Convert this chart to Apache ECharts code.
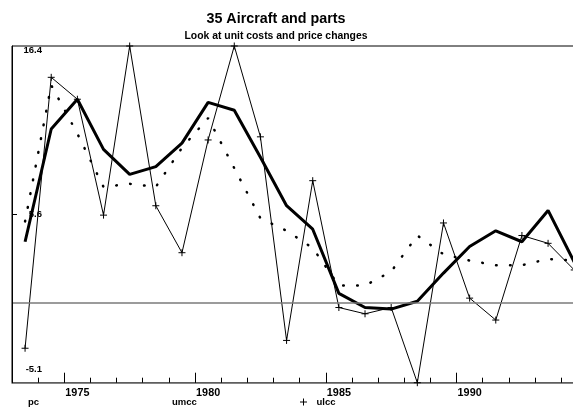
<!DOCTYPE html>
<html>
<head>
<meta charset="utf-8">
<script src="https://cdn.jsdelivr.net/npm/echarts@6/dist/echarts.min.js"></script>
<style>
  html, body { margin: 0; padding: 0; background: #fff; }
  #chart { width: 573px; height: 409px; }
</style>
</head>
<body>
<div id="chart"></div>
<script>
// Annual series, one value per year
const years = [1973, 1974, 1975, 1976, 1977, 1978, 1979, 1980, 1981, 1982, 1983,
               1984, 1985, 1986, 1987, 1988, 1989, 1990, 1991, 1992, 1993, 1994];
const pc   = [3.9, 11.1, 13.0, 9.8, 8.2, 8.7, 10.2, 12.8, 12.3, 9.3, 6.2,
              4.7, 0.6, -0.3, -0.4, 0.1, 1.9, 3.6, 4.6, 3.9, 5.9, 2.6];
const umcc = [5.2, 13.9, 10.8, 7.4, 7.6, 7.4, 9.9, 11.8, 8.6, 5.4, 4.6,
              3.5, 1.1, 1.1, 2.0, 4.3, 3.1, 2.7, 2.4, 2.4, 2.8, 2.7];
const ulcc = [-2.9, 14.4, 13.0, 5.6, 16.4, 6.2, 3.2, 10.4, 16.4, 10.6, -2.4,
              7.8, -0.3, -0.7, -0.3, -5.1, 5.1, 0.3, -1.1, 4.3, 3.8, 2.1];

// Value axis: min, midpoint, max
const yTickValues = [-5.1, 5.65, 16.4];
const yTickLabels = ['-5.1', '5.6', '16.4'];
const xLabelYears = [1975, 1980, 1985, 1990];

const FONT = 'Liberation Sans, Arial, sans-serif';
const plusPath = 'path://M5,0 L5,10 M0,5 L10,5';

const chart = echarts.init(document.getElementById('chart'), null, { renderer: 'canvas' });

const baseText = { fontFamily: FONT, fontWeight: 'bold', color: '#000' };
const isLabelYear = function (i, v) { return xLabelYears.indexOf(Number(v)) >= 0; };

chart.setOption({
  animation: false,
  backgroundColor: '#fff',
  title: [
    {
      text: '35 Aircraft and parts',
      left: 276, top: 12, textAlign: 'center', padding: 0,
      textStyle: Object.assign({}, baseText, { fontSize: 14.3 })
    },
    {
      text: 'Look at unit costs and price changes',
      left: 276, top: 31.5, textAlign: 'center', padding: 0,
      textStyle: Object.assign({}, baseText, { fontSize: 10.4 })
    }
  ],
  legend: [
    {
      data: [{ name: 'pc', icon: 'none' }],
      left: 22, top: 397, padding: 0, itemWidth: 1, itemHeight: 7,
      selectedMode: false,
      textStyle: Object.assign({}, baseText, { fontSize: 9.5 })
    },
    {
      data: [{ name: 'umcc', icon: 'none' }],
      left: 166, top: 397, padding: 0, itemWidth: 1, itemHeight: 7,
      selectedMode: false,
      textStyle: Object.assign({}, baseText, { fontSize: 9.5 })
    },
    {
      data: [{ name: 'ulcc', icon: plusPath }],
      left: 299.5, top: 397, padding: 0, itemWidth: 7, itemHeight: 7,
      selectedMode: false,
      itemStyle: { color: '#000', borderColor: '#000', borderWidth: 1 },
      textStyle: Object.assign({}, baseText, { fontSize: 9.5, padding: [0, 0, 0, 4.5] })
    }
  ],
  grid: {
    // the plot runs a little past the right edge of the canvas
    left: 12, top: 46, width: 575.3, height: 336.7,
    outerBoundsMode: 'none', containLabel: false,
    show: true, borderColor: '#000', borderWidth: 1, backgroundColor: 'transparent'
  },
  xAxis: [
    {
      // yearly ticks and the baseline
      type: 'category', data: years, boundaryGap: true,
      axisLine: { show: true, onZero: false, lineStyle: { color: '#6e6e6e', width: 1.6 } },
      axisTick: { show: true, inside: true, length: 5, interval: 0, lineStyle: { color: '#000', width: 1 } },
      axisLabel: { show: false },
      splitLine: { show: false }
    },
    {
      // longer ticks and labels every five years
      type: 'category', data: years, boundaryGap: true, position: 'bottom',
      axisLine: { show: false, onZero: false },
      axisTick: {
        show: true, inside: true, length: 10, interval: isLabelYear,
        lineStyle: { color: '#000', width: 1 }
      },
      axisLabel: Object.assign({}, baseText, {
        fontSize: 10.8, margin: 5, interval: isLabelYear
      }),
      splitLine: { show: false }
    }
  ],
  yAxis: {
    type: 'value', min: -5.1, max: 16.4, z: 6,
    axisLine: { show: true, lineStyle: { color: '#000', width: 1 } },
    axisTick: { show: true, inside: true, length: 5, customValues: [yTickValues[1]], lineStyle: { color: '#000' } },
    splitLine: { show: false },
    axisLabel: Object.assign({}, baseText, {
      inside: true, align: 'right', margin: 30, fontSize: 9.5,
      customValues: yTickValues,
      formatter: function (v) {
        let best = 0;
        yTickValues.forEach(function (t, i) {
          if (Math.abs(t - v) < Math.abs(yTickValues[best] - v)) best = i;
        });
        const key = best === 0 ? 'lo' : (best === yTickValues.length - 1 ? 'hi' : 'mid');
        return '{' + key + '|' + yTickLabels[best] + '}';
      },
      rich: {
        lo: { padding: [0, 0, 27, 0] },
        hi: { padding: [8, 0, 0, 0] },
        mid: {}
      }
    })
  },
  series: [
    {
      name: 'pc', type: 'line', data: pc, xAxisIndex: 0,
      showSymbol: false, symbol: 'none', silent: true,
      lineStyle: { color: '#000', width: 3 },
      itemStyle: { color: '#000' },
      markLine: {
        silent: true, symbol: 'none', label: { show: false },
        lineStyle: { color: '#7a7a7a', width: 1.6, type: 'solid' },
        data: [{ yAxis: 0 }]
      },
      z: 3
    },
    {
      name: 'umcc', type: 'line', data: umcc, xAxisIndex: 0,
      showSymbol: false, symbol: 'none', silent: true,
      lineStyle: { color: '#000', width: 2.5, type: [0.6, 13.4], cap: 'round' },
      itemStyle: { color: '#000' },
      z: 2
    },
    {
      name: 'ulcc', type: 'line', data: ulcc, xAxisIndex: 0,
      showSymbol: true, symbol: plusPath, symbolSize: 7, silent: true,
      lineStyle: { color: '#000', width: 1 },
      itemStyle: { color: '#000', borderColor: '#000', borderWidth: 1 },
      z: 4
    }
  ]
});
</script>
</body>
</html>
